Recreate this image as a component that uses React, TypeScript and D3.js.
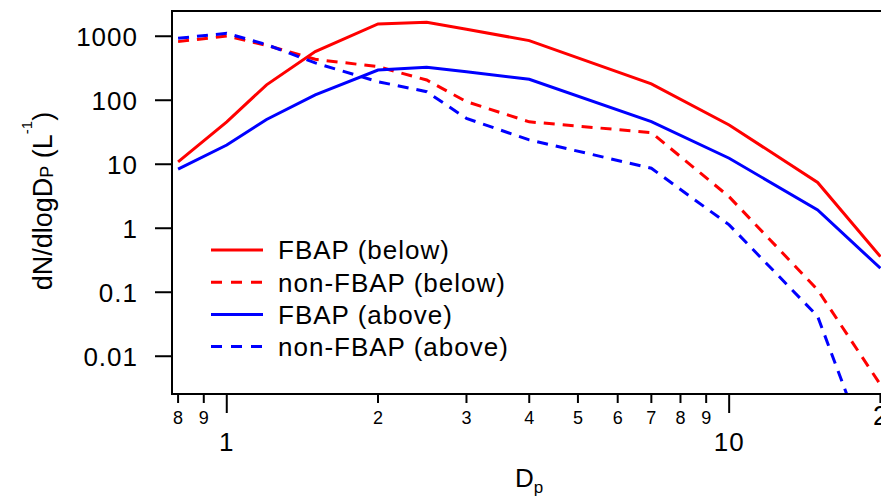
import { useEffect, useRef } from 'react'
import * as d3 from 'd3'

// particle diameter bins (µm)
const sizes = [0.8, 1, 1.2, 1.5, 2, 2.5, 3, 4, 7, 10, 15, 20]

// dN/dlogDp (L^-1)
const fbapBelow = [10.9, 46, 174, 575, 1560, 1655, 1290, 854, 180, 41, 5.2, 0.36]
const nonFbapBelow = [824, 1010, 720, 436, 335, 207, 95, 46, 31.2, 3.1, 0.109, 0.0036]
const fbapAbove = [8.4, 20, 50, 121, 297, 328, 278, 213, 46.4, 12.4, 1.93, 0.237]
const nonFbapAbove = [930, 1113, 740, 383, 195, 136, 52, 24, 8.66, 1.13, 0.042, 0.0001]

const seriesNames = ['FBAP (below)', 'non-FBAP (below)', 'FBAP (above)', 'non-FBAP (above)']

const yTicks = [0.01, 0.1, 1, 10, 100, 1000]
const xMajorTicks = [1, 10]
const xMinorTicks = [0.8, 0.9, 2, 3, 4, 5, 6, 7, 8, 9, 20]

const RED = '#ff0000'
const BLUE = '#0000ff'
const FONT = '"Liberation Sans", Arial, sans-serif'
const BIG = 26 // main label size
const SPACING = 1 // the reference type runs a little wide

export default function App() {
  const svgRef = useRef<SVGSVGElement | null>(null)

  useEffect(() => {
    if (!svgRef.current) return
    const svg = d3.select(svgRef.current)
    svg.selectAll('*').remove()

    const width = 881
    const height = 498
    const left = 172
    const right = 880.4
    const top = 11
    const bottom = 394

    const x = d3.scaleLog().domain([0.778, 20]).range([left, right])
    const y = d3.scaleLog().domain([0.00257, 2480]).range([bottom, top])

    svg.attr('width', width).attr('height', height).style('font-family', FONT)

    svg
      .append('defs')
      .append('clipPath')
      .attr('id', 'plot-clip')
      .append('rect')
      .attr('x', left)
      .attr('y', top)
      .attr('width', width - left)
      .attr('height', bottom - top)

    // series lines
    const series = [
      { name: seriesNames[0], values: fbapBelow, color: RED, dash: null },
      { name: seriesNames[1], values: nonFbapBelow, color: RED, dash: '11,8' },
      { name: seriesNames[2], values: fbapAbove, color: BLUE, dash: null },
      { name: seriesNames[3], values: nonFbapAbove, color: BLUE, dash: '11,8' },
    ]

    const line = d3
      .line<number>()
      .x((_, i) => x(sizes[i]))
      .y(d => y(d))

    const lines = svg.append('g').attr('clip-path', 'url(#plot-clip)')
    series.forEach(s => {
      lines
        .append('path')
        .attr('d', line(s.values))
        .attr('fill', 'none')
        .attr('stroke', s.color)
        .attr('stroke-width', 3)
        .attr('stroke-dasharray', s.dash)
    })

    // frame: left, bottom, top
    const axisColor = '#000'
    svg.append('line').attr('x1', left).attr('x2', left).attr('y1', top).attr('y2', bottom + 1)
      .attr('stroke', axisColor).attr('stroke-width', 2)
    svg.append('line').attr('x1', left - 1).attr('x2', width).attr('y1', bottom).attr('y2', bottom)
      .attr('stroke', axisColor).attr('stroke-width', 2)
    svg.append('line').attr('x1', left - 1).attr('x2', width).attr('y1', top).attr('y2', top)
      .attr('stroke', axisColor).attr('stroke-width', 2)

    // y axis ticks and labels
    yTicks.forEach(t => {
      svg.append('line')
        .attr('x1', left - 17).attr('x2', left)
        .attr('y1', y(t)).attr('y2', y(t))
        .attr('stroke', axisColor).attr('stroke-width', 2)
      svg.append('text')
        .attr('x', left - 34)
        .attr('y', y(t))
        .attr('dy', '0.36em')
        .attr('text-anchor', 'end')
        .attr('font-size', BIG)
        .attr('letter-spacing', SPACING)
        .text(d3.format('~g')(t))
    })

    // x axis minor ticks
    xMinorTicks.forEach(t => {
      svg.append('line')
        .attr('x1', x(t)).attr('x2', x(t))
        .attr('y1', bottom).attr('y2', bottom + 9)
        .attr('stroke', axisColor).attr('stroke-width', 2)
      const big = t === 20
      svg.append('text')
        .attr('x', x(t))
        .attr('y', big ? 425 : 424)
        .attr('text-anchor', 'middle')
        .attr('font-size', big ? 27 : 18)
        .text(String(t).replace('0.', '').replace('20', '2'))
    })

    // x axis major ticks
    xMajorTicks.forEach(t => {
      svg.append('line')
        .attr('x1', x(t)).attr('x2', x(t))
        .attr('y1', bottom).attr('y2', bottom + 19)
        .attr('stroke', axisColor).attr('stroke-width', 2)
      svg.append('text')
        .attr('x', x(t))
        .attr('y', 451)
        .attr('text-anchor', 'middle')
        .attr('font-size', BIG)
        .attr('letter-spacing', SPACING)
        .text(String(t))
    })

    // axis titles
    const xTitle = svg.append('text')
      .attr('x', 515)
      .attr('y', 487)
      .attr('font-size', BIG)
    xTitle.append('tspan').text('D')
    xTitle.append('tspan').attr('font-size', 17).attr('dy', 6).text('p')

    const yTitle = svg.append('text')
      .attr('transform', 'translate(52,201) rotate(-90)')
      .attr('text-anchor', 'middle')
      .attr('font-size', 27)
    yTitle.append('tspan').text('dN/dlogD')
    yTitle.append('tspan').attr('font-size', 18).attr('dy', 1).text('P')
    yTitle.append('tspan').attr('dy', -1).text(' (L')
    yTitle.append('tspan').attr('font-size', 15).attr('dy', -20).text('-1')
    yTitle.append('tspan').attr('dy', 20).text(')')

    // legend
    const legend = svg.append('g').attr('transform', 'translate(211,250)')
    series.forEach((s, i) => {
      const row = legend.append('g').attr('transform', `translate(0,${i * 32.2})`)
      row.append('line')
        .attr('x1', 0).attr('x2', 52)
        .attr('stroke', s.color)
        .attr('stroke-width', 3)
        .attr('stroke-dasharray', s.dash ? '11,9' : null)
      row.append('text')
        .attr('x', 67)
        .attr('dy', '0.36em')
        .attr('font-size', BIG)
        .attr('letter-spacing', SPACING)
        .text(s.name)
    })
  }, [])

  return (
    <div style={{ position: 'absolute', left: 0, top: 0, background: '#fff' }}>
      <svg ref={svgRef}></svg>
    </div>
  )
}
